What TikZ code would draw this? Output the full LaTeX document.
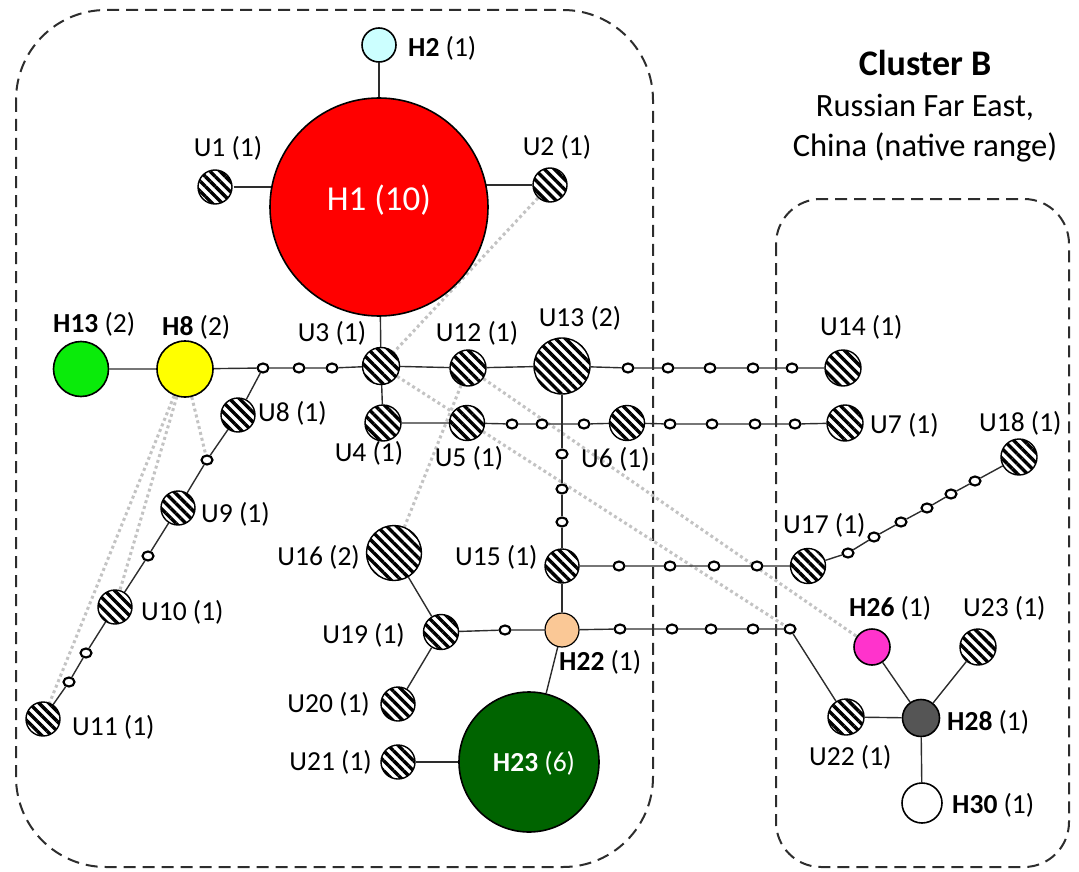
\documentclass[tikz,border=0pt]{standalone}
\usepackage{fontspec}
\setmainfont{Carlito}
\usetikzlibrary{patterns.meta,shapes.geometric}
\pgfdeclarelayer{bg}
\pgfsetlayers{bg,main}
\definecolor{hcyan}{RGB}{204,255,255}
\definecolor{hred}{RGB}{255,0,0}
\definecolor{hgreen}{RGB}{10,235,10}
\definecolor{hyellow}{RGB}{255,255,0}
\definecolor{hpeach}{RGB}{250,200,150}
\definecolor{hdgreen}{RGB}{0,100,0}
\definecolor{hpink}{RGB}{255,51,204}
\definecolor{hgray}{RGB}{85,85,85}
\definecolor{edgecol}{RGB}{45,45,45}
\definecolor{altcol}{RGB}{195,195,195}
\begin{document}
\begin{tikzpicture}[x=1pt,y=-1pt,
 edge/.style={draw=edgecol, line width=1.4pt},
 alt/.style={draw=altcol, line width=3pt, dash pattern=on 3pt off 3pt},
 rad/.style={minimum size={2*#1pt}},
 hap/.style={circle, draw=black, line width=1.6pt, inner sep=0pt},
 unk/.style={circle, draw=black, line width=1.4pt, inner sep=0pt, preaction={fill=white}, pattern={Lines[angle=-45,distance=7pt,line width=3.4pt]}},
 mv/.style={ellipse, draw=black, fill=white, line width=2.1pt, minimum width=11pt, minimum height=9pt, inner sep=0pt},
 lab/.style={inner sep=0pt, font=\fontsize{27.5}{32}\selectfont},
 box/.style={draw=edgecol, line width=2pt, dash pattern=on 12pt off 7pt},
]
\useasboundingbox (0,0) rectangle (1079,872);
% ---------- haplotype nodes ----------
\node[hap, fill=hcyan, rad=17] (H2) at (379,45) {};
\node[hap, fill=hred, rad=109] (H1) at (379,207) {};
\node[unk, rad=17] (U1) at (215,187) {};
\node[unk, rad=17] (U2) at (550,185) {};
\node[hap, fill=hgreen, rad=27.5] (H13) at (81,369) {};
\node[hap, fill=hyellow, rad=28] (H8) at (185,369) {};
\node[mv] (a1) at (263,368) {};
\node[mv] (a2) at (299,368) {};
\node[mv] (a3) at (332,368) {};
\node[unk, rad=18.5] (U3) at (381,366) {};
\node[unk, rad=18] (U12) at (468,368) {};
\node[unk, rad=28] (U13) at (562,366) {};
\node[mv] (b1) at (628,368) {};
\node[mv] (b2) at (668,368) {};
\node[mv] (b3) at (710,368) {};
\node[mv] (b4) at (753,368) {};
\node[mv] (b5) at (792,368) {};
\node[unk, rad=18] (U14) at (843,368) {};
\node[unk, rad=18] (U4) at (383,423) {};
\node[unk, rad=17.5] (U5) at (467,423) {};
\node[mv] (c1) at (512,424) {};
\node[mv] (c2) at (542,424) {};
\node[mv] (c3) at (584,424) {};
\node[unk, rad=17.5] (U6) at (627,423) {};
\node[mv] (c4) at (670,424) {};
\node[mv] (c5) at (712,424) {};
\node[mv] (c6) at (755,424) {};
\node[mv] (c7) at (795,424) {};
\node[unk, rad=18] (U7) at (845,423) {};
\node[mv] (d1) at (562,454) {};
\node[mv] (d2) at (562,489) {};
\node[mv] (d3) at (562,522) {};
\node[unk, rad=17] (U15) at (562,566) {};
\node[mv] (e1) at (619,566) {};
\node[mv] (e2) at (670,566) {};
\node[mv] (e3) at (714,566) {};
\node[mv] (e4) at (757,566) {};
\node[unk, rad=17.5] (U17) at (808,566) {};
\node[mv] (f1) at (848,553) {};
\node[mv] (f2) at (874,537) {};
\node[mv] (f3) at (901,522) {};
\node[mv] (f4) at (927,508) {};
\node[mv] (f5) at (951,494) {};
\node[mv] (f6) at (975,481) {};
\node[unk, rad=18] (U18) at (1019,457) {};
\node[unk, rad=17] (U8) at (238,415) {};
\node[mv] (l1) at (207,460) {};
\node[unk, rad=17] (U9) at (178,508) {};
\node[mv] (l2) at (148,556) {};
\node[unk, rad=17] (U10) at (115,607) {};
\node[mv] (l3) at (86,653) {};
\node[mv] (l4) at (69,682) {};
\node[unk, rad=17] (U11) at (43,719) {};
\node[unk, rad=27.5] (U16) at (394,553) {};
\node[unk, rad=17.5] (U19) at (441,632) {};
\node[mv] (g1) at (505,630) {};
\node[hap, fill=hpeach, line width=1.2pt, rad=17] (H22) at (562,630) {};
\node[mv] (h1) at (620,629) {};
\node[mv] (h2) at (672,629) {};
\node[mv] (h3) at (711,629) {};
\node[mv] (h4) at (753,629) {};
\node[mv] (h5) at (790,629) {};
\node[unk, rad=17] (U20) at (398,704) {};
\node[unk, rad=17] (U21) at (398,762) {};
\node[hap, fill=hdgreen, rad=70] (H23) at (529,762) {};
\node[hap, fill=hpink, rad=18] (H26) at (872,647) {};
\node[unk, rad=18] (U23) at (978,647) {};
\node[unk, rad=18] (U22) at (846,717) {};
\node[hap, fill=hgray, rad=18.5] (H28) at (921,718) {};
\node[hap, fill=white, rad=20] (H30) at (922,803) {};
% ---------- labels ----------
\node[lab, anchor=west] (lH2) at (408,48) {\textbf{H2} (1)};
\node[lab, text=white, font=\fontsize{35}{40}\selectfont] (lH1) at (379,200) {H1 (10)};
\node[lab] (lU1) at (228,148) {U1 (1)};
\node[lab] (lU2) at (557,147) {U2 (1)};
\node[lab, anchor=west] (lH13) at (53,324) {\textbf{H13} (2)};
\node[lab, anchor=west] (lH8) at (162,327) {\textbf{H8} (2)};
\node[lab] (lU3) at (332,333) {U3 (1)};
\node[lab] (lU12) at (477,333) {U12 (1)};
\node[lab] (lU13) at (580,318) {U13 (2)};
\node[lab, anchor=west] (lU14) at (820,327) {U14 (1)};
\node[lab] (lU4) at (369,453) {U4 (1)};
\node[lab] (lU5) at (469,458) {U5 (1)};
\node[lab, anchor=west] (lU6) at (581,459) {U6 (1)};
\node[lab, anchor=west] (lU7) at (870,425) {U7 (1)};
\node[lab, anchor=west] (lU8) at (258,413) {U8 (1)};
\node[lab, anchor=west] (lU9) at (201,514) {U9 (1)};
\node[lab, anchor=west] (lU10) at (141,612) {U10 (1)};
\node[lab, anchor=west] (lU11) at (72,727) {U11 (1)};
\node[lab, anchor=east] (lU16) at (360,557) {U16 (2)};
\node[lab, anchor=west] (lU15) at (455,557) {U15 (1)};
\node[lab, anchor=west] (lU17) at (783,525) {U17 (1)};
\node[lab, anchor=west] (lU18) at (979,423) {U18 (1)};
\node[lab, anchor=east] (lU19) at (405,635) {U19 (1)};
\node[lab, anchor=east] (lU20) at (370,704) {U20 (1)};
\node[lab, anchor=east] (lU21) at (372,762) {U21 (1)};
\node[lab, anchor=west] (lH22) at (559,662) {\textbf{H22} (1)};
\node[lab, text=white] (lH23) at (534,763) {\textbf{H23} (6)};
\node[lab, anchor=west] (lH26) at (849,608) {\textbf{H26} (1)};
\node[lab, anchor=west] (lU23) at (963,608) {U23 (1)};
\node[lab, anchor=west] (lU22) at (809,757) {U22 (1)};
\node[lab, anchor=west] (lH28) at (947,722) {\textbf{H28} (1)};
\node[lab, anchor=west] (lH30) at (952,805) {\textbf{H30} (1)};
\node[inner sep=0pt, font=\fontsize{36}{40}\selectfont\bfseries] (tB) at (925,63) {Cluster B};
\node[inner sep=0pt, font=\fontsize{32.5}{36}\selectfont] (tR) at (925,107) {Russian Far East,};
\node[inner sep=0pt, font=\fontsize{32.5}{36}\selectfont] (tC) at (925,147) {China (native range)};
% ---------- connectors ----------
\begin{pgfonlayer}{bg}
\draw[box, rounded corners=90pt] (16,10) rectangle (653,867);
\draw[box, rounded corners=45pt] (776,199) rectangle (1069,867);
% alternative (dotted) links
\draw[alt] (U2) -- (U3);
\draw[alt] (U12) -- (U16);
\draw[alt] (H8) -- (l1);
\draw[alt] (H8) -- (U10);
\draw[alt] (H8) -- (U11);
\draw[alt] (U12) -- (H26);
\draw[alt] (U3) -- (h5);
% solid links
\draw[edge] (H2) -- (H1);
\draw[edge] (U1) -- (U1 -| H1);
\draw[edge] (U2) -- (U2 -| H1);
\draw[edge] (H1) -- (U3);
\draw[edge] (H13) -- (H8) -- (a1) -- (a2) -- (a3) -- (U3) -- (U12) -- (U13) -- (b1) -- (b2) -- (b3) -- (b4) -- (b5) -- (U14);
\draw[edge] (U3) -- (U4) -- (U5) -- (c1) -- (c2) -- (c3) -- (U6) -- (c4) -- (c5) -- (c6) -- (c7) -- (U7);
\draw[edge] (U13) -- (d1) -- (d2) -- (d3) -- (U15) -- (H22);
\draw[edge] (U15) -- (e1) -- (e2) -- (e3) -- (e4) -- (U17) -- (f1) -- (f2) -- (f3) -- (f4) -- (f5) -- (f6) -- (U18);
\draw[edge] (a1) -- (U8) -- (l1) -- (U9) -- (l2) -- (U10) -- (l3) -- (l4) -- (U11);
\draw[edge] (U16) -- (U19) -- (U20);
\draw[edge] (U19) -- (g1) -- (H22) -- (h1) -- (h2) -- (h3) -- (h4) -- (h5) -- (U22) -- (H28);
\draw[edge] (H22) -- (H23);
\draw[edge] (U21) -- (U21 -| H23);
\draw[edge] (H26) -- (H28) -- (U23);
\draw[edge] (H28) -- (H30);
\end{pgfonlayer}
\end{tikzpicture}
\end{document}
